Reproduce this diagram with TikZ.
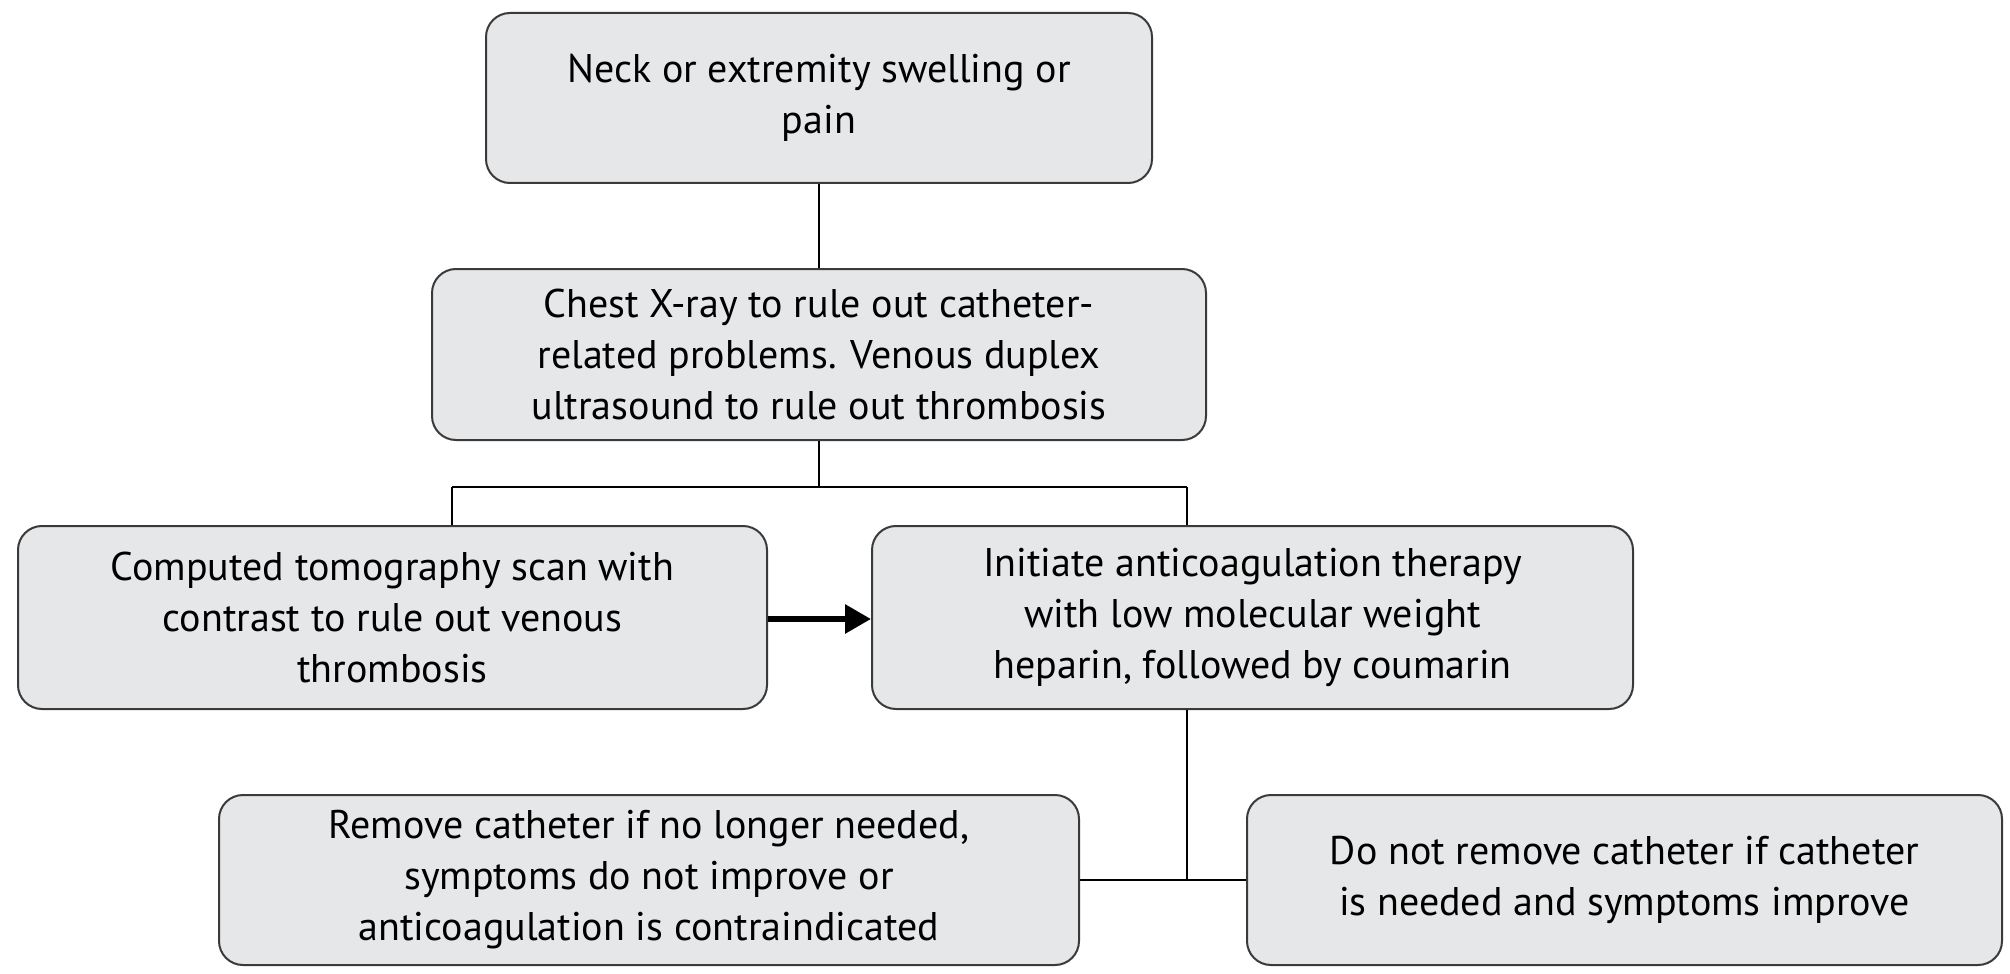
\documentclass[tikz,border=0pt]{standalone}
\usepackage{fontspec}
\setmainfont{PT Sans}
\usetikzlibrary{arrows.meta}
\definecolor{boxfill}{HTML}{E6E7E8}
\definecolor{boxline}{HTML}{3A3A3A}
\tikzset{
  flowbox/.style={draw=boxline, line width=1pt, fill=boxfill, rounded corners=12pt,
    align=center, inner sep=0pt, font=\fontsize{20}{25.5}\selectfont, text=black},
  conn/.style={draw=black, line width=0.9pt},
  thickarrow/.style={draw=black, line width=3pt, -{Triangle[length=13pt,width=14pt]}}
}
\begin{document}
\begin{tikzpicture}[x=0.5pt,y=-0.5pt]
\useasboundingbox (0,0) rectangle (2010,974);
\node[flowbox, minimum width=333pt, minimum height=85pt] (b1) at (819,98) {Neck or extremity swelling or\\pain};
\node[flowbox, minimum width=387pt, minimum height=85.5pt] (b2) at (819,354.5) {Chest X-ray to rule out catheter-\\related problems. Venous duplex\\ultrasound to rule out thrombosis};
\node[flowbox, minimum width=374.5pt, minimum height=91.5pt] (b3) at (392.5,617.5) {Computed tomography scan with\\contrast to rule out venous\\thrombosis};
\node[flowbox, minimum width=380.5pt, minimum height=91.5pt] (b4) at (1252.5,617.5) {Initiate anticoagulation therapy\\with low molecular weight\\heparin, followed by coumarin};
\node[flowbox, minimum width=430pt, minimum height=85pt] (b5) at (649,880) {Remove catheter if no longer needed,\\symptoms do not improve or\\anticoagulation is contraindicated};
\node[flowbox, minimum width=377.5pt, minimum height=85pt] (b6) at (1624.5,880) {Do not remove catheter if catheter\\is needed and symptoms improve};
\coordinate (bus) at (819,487);
\coordinate (busL) at (452,487);
\coordinate (busR) at (1187,487);
\coordinate (junc) at (1187,880);
\draw[conn] (b1.south) -- (b2.north);
\draw[conn] (b2.south) -- (bus);
\draw[conn] (busL) -- (busR);
\draw[conn] (busL) -- (busL |- b3.north);
\draw[conn] (busR) -- (busR |- b4.north);
\draw[conn] (busR |- b4.south) -- (junc);
\draw[conn] (b5.east) -- (b6.west);
\draw[thickarrow] (b3.east |- 0,619) -- (b4.west |- 0,619);
\end{tikzpicture}
\end{document}
